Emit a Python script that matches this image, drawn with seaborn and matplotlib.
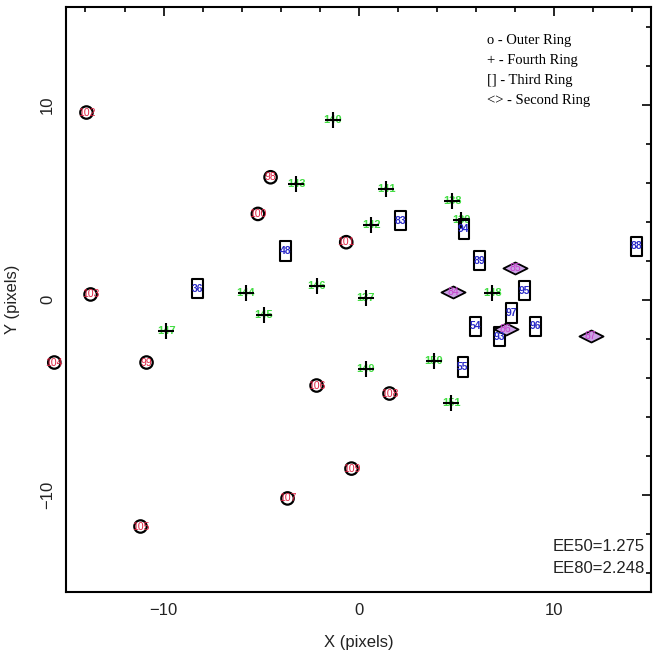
import numpy as np
import pandas as pd
import matplotlib
matplotlib.use("Agg")
import matplotlib.pyplot as plt
import seaborn as sns
from matplotlib.path import Path

# ---------------- data ----------------
outer_x = [-13.95, -13.74, -15.6, -10.87, -11.18, -4.51, -5.16, -0.63, -2.15, 1.59, -0.36, -3.64]
outer_y = [9.59, 0.26, -3.23, -3.23, -11.64, 6.27, 4.39, 2.94, -4.41, -4.82, -8.67, -10.2]
outer_lab = ["102", "103", "104", "99", "105", "98", "100", "101", "106", "108", "109", "107"]

fourth_x = [-1.32, -3.19, 1.42, 4.81, 0.65, 5.27, -5.79, -2.15, -4.87, -9.85, 0.36, 6.86, 0.36, 3.85, 4.75]
fourth_y = [9.22, 5.93, 5.68, 5.04, 3.83, 4.09, 0.36, 0.67, -0.77, -1.59, 0.10, 0.34, -3.54, -3.16, -5.30]
fourth_lab = ["140", "143", "141", "138", "142", "139", "144", "146", "145", "147",
              "137", "148", "149", "150", "151"]

third_x = [-8.26, -3.74, 2.14, 5.40, 6.21, 8.51, 7.86, 6.00, 7.23, 9.08, 5.35, 14.26]
third_y = [0.56, 2.48, 4.05, 3.63, 2.00, 0.46, -0.68, -1.38, -1.90, -1.38, -3.47, 2.72]
third_lab = ["36", "48", "83", "94", "89", "95", "97", "54", "93", "96", "55", "88"]

second_x = [4.84, 8.05, 7.54, 11.90]
second_y = [0.41, 1.61, -1.50, -1.86]
second_lab = ["84", "85", "86", "87"]

legend_lines = ["o - Outer Ring", "+ - Fourth Ring", "[] - Third Ring", "<> - Second Ring"]
ee_lines = ["EE50=1.275", "EE80=2.248"]

# ---------------- style ----------------
sns.set_theme(style="white")
plt.rcParams['font.family'] = ['Liberation Sans', 'DejaVu Sans']

fig = plt.figure(figsize=(6.58, 6.57), dpi=100)
ax = fig.add_axes([0.1003, 0.0989, 0.8891, 0.8904])

rect_marker = Path([(-0.27, -0.5), (0.27, -0.5), (0.27, 0.5), (-0.27, 0.5), (-0.27, -0.5)],
                   [Path.MOVETO, Path.LINETO, Path.LINETO, Path.LINETO, Path.CLOSEPOLY])
diam_marker = Path([(-0.5, 0.0), (0.0, 0.25), (0.5, 0.0), (0.0, -0.25), (-0.5, 0.0)],
                   [Path.MOVETO, Path.LINETO, Path.LINETO, Path.LINETO, Path.CLOSEPOLY])

df_outer = pd.DataFrame({"x": outer_x, "y": outer_y, "lab": outer_lab})
df_fourth = pd.DataFrame({"x": fourth_x, "y": fourth_y, "lab": fourth_lab})
df_third = pd.DataFrame({"x": third_x, "y": third_y, "lab": third_lab})
df_second = pd.DataFrame({"x": second_x, "y": second_y, "lab": second_lab})

RED = "#dc2040"
GREEN = "#44dd44"
BLUE = "#2a2ac8"
MAGENTA = "#c840cc"
VIOLET = "#caa2e4"

# green labels lie under the black crosses
for _, r in df_fourth.iterrows():
    ax.text(r.x, r.y, r.lab, color=GREEN, fontsize=8, fontweight="bold",
            ha="center", va="center", zorder=1)

sns.scatterplot(data=df_fourth, x="x", y="y", ax=ax, marker="+", s=120,
                color="black", linewidth=1.5, zorder=2, legend=False)
sns.scatterplot(data=df_outer, x="x", y="y", ax=ax, marker="o", s=80,
                facecolor="none", edgecolor="black", linewidth=1.6, zorder=2,
                legend=False, clip_on=False)
sns.scatterplot(data=df_third, x="x", y="y", ax=ax, marker=rect_marker, s=200,
                facecolor="none", edgecolor="black", linewidth=1.5, zorder=2, legend=False)
sns.scatterplot(data=df_second, x="x", y="y", ax=ax, marker=diam_marker, s=300,
                facecolor=VIOLET, edgecolor="black", linewidth=1.3, zorder=2, legend=False)

for _, r in df_outer.iterrows():
    ax.text(r.x, r.y, r.lab, color=RED, fontsize=7.5, ha="center", va="center",
            zorder=3, clip_on=False)
for _, r in df_third.iterrows():
    ax.text(r.x, r.y, r.lab, color=BLUE, fontsize=7.5, fontweight="bold",
            ha="center", va="center", zorder=3)
for _, r in df_second.iterrows():
    ax.text(r.x, r.y, r.lab, color=MAGENTA, fontsize=7.5, ha="center", va="center", zorder=3)

# ---------------- axes ----------------
ax.set_xlim(-15, 15)
ax.set_ylim(-15, 15)
ax.set_xticks([-10, 0, 10])
ax.set_yticks([-10, 0, 10])
ax.set_xticklabels(["\u221210", "0", "10"])
ax.set_yticklabels(["\u221210", "0", "10"], rotation=90, va="center")
ax.set_xticks(np.arange(-14, 15, 2), minor=True)
ax.set_yticks(np.arange(-14, 15, 2), minor=True)
ax.tick_params(which="both", direction="in", top=True, right=True, color="black",
               width=1.2, labelsize=12, labelcolor="#222222", pad=8)
ax.tick_params(which="major", length=6.5)
ax.tick_params(which="minor", length=3.8)
for sp in ax.spines.values():
    sp.set_color("black")
    sp.set_linewidth(1.5)

ax.set_xlabel("X (pixels)", fontsize=12, color="#222222", labelpad=12)
ax.set_ylabel("Y (pixels)", fontsize=12, color="#222222", labelpad=14)

# legend text block (serif)
for i, line in enumerate(legend_lines):
    ax.text(0.72, 0.942 - i * 0.034, line, transform=ax.transAxes, fontsize=10.5,
            family=["Liberation Serif", "DejaVu Serif"], ha="left", va="center",
            color="black")

ax.text(0.99, 0.078, ee_lines[0], transform=ax.transAxes, fontsize=12,
        ha="right", va="center", color="#222222")
ax.text(0.99, 0.040, ee_lines[1], transform=ax.transAxes, fontsize=12,
        ha="right", va="center", color="#222222")

fig.savefig("out.png", dpi=100)
